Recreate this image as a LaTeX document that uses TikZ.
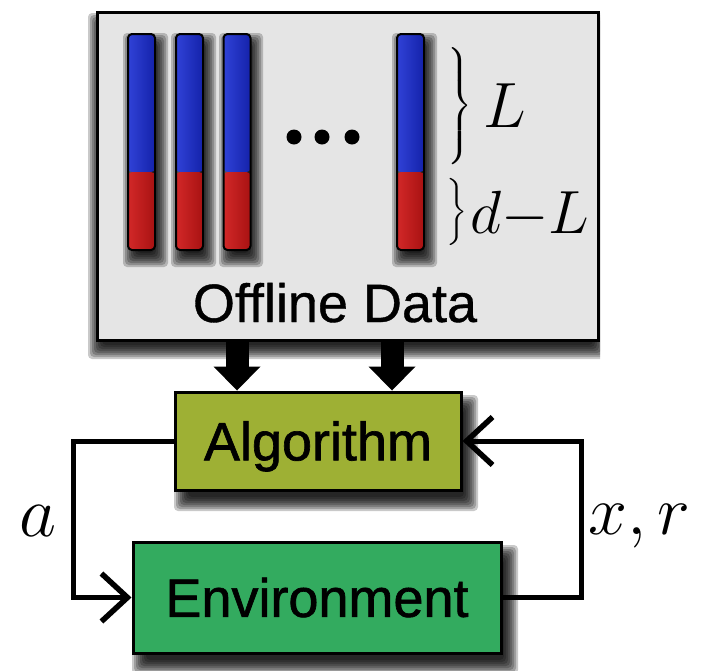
\RequirePackage{fix-cm}
\documentclass[tikz,border=0pt]{standalone}
\usepackage{fontspec}
\newfontfamily\hv[FakeBold=0.7]{Liberation Sans}
\newfontfamily\hvb[FakeBold=1.2]{Liberation Sans}
\usetikzlibrary{arrows.meta,calc}
\definecolor{algcol}{RGB}{158,176,52}
\definecolor{envcol}{RGB}{51,171,95}
\definecolor{boxgray}{RGB}{229,229,229}
\definecolor{blueL}{RGB}{48,66,215}
\definecolor{blueR}{RGB}{20,34,170}
\definecolor{redL}{RGB}{210,40,40}
\definecolor{redR}{RGB}{168,18,18}
% soft shadow: core rectangle (#1,#2)-(#3,#4)
\newcommand\mkshadow[4]{%
  \foreach \k in {-5,-3,...,9}{%
    \fill[black,opacity=0.21,rounded corners=4pt]
      ({#1-(\k)},{#2-(\k)}) rectangle ({#3+(\k)},{#4+(\k)});}}
\begin{document}
\begin{tikzpicture}[x=1pt,y=-1pt,
  sans/.style={font=\hv\fontsize{54}{54}\selectfont},
  sansb/.style={font=\hvb\fontsize{54}{54}\selectfont},
  mainbox/.style={draw=black, line width=3pt, inner sep=0pt, sansb,
    text height=38.7pt, text depth=0pt},
  databar/.style={draw=black, line width=2pt, rounded corners=4pt,
    minimum width=27pt, minimum height=216pt, inner sep=0pt,
    path picture={
      \shade[left color=blueL, right color=blueR]
        (path picture bounding box.north west) rectangle
        ($(path picture bounding box.north east)!0.639!(path picture bounding box.south east)$);
      \shade[left color=redL, right color=redR]
        ($(path picture bounding box.north west)!0.639!(path picture bounding box.south west)$)
        rectangle (path picture bounding box.south east);
    }},
  dotnode/.style={circle, fill=black, minimum size=15pt, inner sep=0pt},
  loopline/.style={draw=black, line width=5pt, line join=miter,
    -{Straight Barb[length=26pt,width=48pt,line width=5.5pt]}},
  blockarrow/.style={draw=black, line width=23pt,
    -{Triangle[width=47pt,length=24pt,line width=0pt]}},
  bracenode/.style={inner sep=0pt},
]
\useasboundingbox (0,0) rectangle (709,670);

% Offline data box
\begin{scope}
  \clip (0,0) rectangle (600,400);
  \mkshadow{97}{22}{598}{350}
\end{scope}
\node[draw=black, line width=3pt, fill=boxgray, minimum width=501pt, minimum height=328pt,
  inner sep=0pt] (offl) at (347.5,176) {};

% bars
\mkshadow{132}{42}{159}{258}
\mkshadow{180}{42}{207}{258}
\mkshadow{228}{42}{254}{258}
\mkshadow{401}{42}{428}{258}
\node[databar] (bar1) at (141.5,142) {};
\node[databar] (bar2) at (189.5,142) {};
\node[databar] (bar3) at (237,142) {};
\node[databar] (bar4) at (410.5,142) {};

% dots
\node[dotnode] (dot1) at (294,137) {};
\node[dotnode] (dot2) at (322,137) {};
\node[dotnode] (dot3) at (352,137) {};

% braces and labels
\node[bracenode] (braceL) at (458.5,106)
  {\scalebox{2.8}{$\left.\vrule height 23.5pt depth 18.5pt width 0pt\right\}$}};
\node[bracenode] (braceD) at (455,212)
  {\scalebox{2.8}{$\left.\vrule height 14.3pt depth 9.3pt width 0pt\right\}$}};
\node[anchor=base west, inner sep=0pt, font=\fontsize{64}{64}\selectfont] (labL) at (483,127) {$L$};
\node[anchor=base west, inner sep=0pt, font=\fontsize{61}{61}\selectfont] (labD) at (470,233) {$d{-}L$};

% Offline Data text
\node[anchor=base, inner sep=0pt, sans] (offtext) at (335,322) {Offline Data};

% Algorithm and Environment
\mkshadow{183}{404}{469}{502}
\node[mainbox, fill=algcol, minimum width=286pt, minimum height=98pt] (alg) at (318,441) {Algorithm};
\mkshadow{141}{554}{509}{665}
\node[mainbox, fill=envcol, minimum width=368pt, minimum height=111pt] (env) at (317,597.5) {Environment};

% block arrows
\coordinate (ax1) at (237,0);
\coordinate (ax2) at (392,0);
\draw[blockarrow] (offl.south -| ax1) -- (alg.north -| ax1);
\draw[blockarrow] (offl.south -| ax2) -- (alg.north -| ax2);

% loop
\coordinate (lx) at (73,500);
\coordinate (rx) at (581,500);
\draw[loopline] (alg.west) -- (alg.west -| lx) |- (env.west);
\draw[loopline] (env.east) -- (env.east -| rx) |- (alg.east);

\node[anchor=base, inner sep=0pt, font=\fontsize{72}{72}\selectfont] (laba) at (38,536) {$a$};
\node[anchor=base west, inner sep=0pt, font=\fontsize{70}{70}\selectfont] (labxr) at (588,534) {$x,r$};
\end{tikzpicture}
\end{document}
